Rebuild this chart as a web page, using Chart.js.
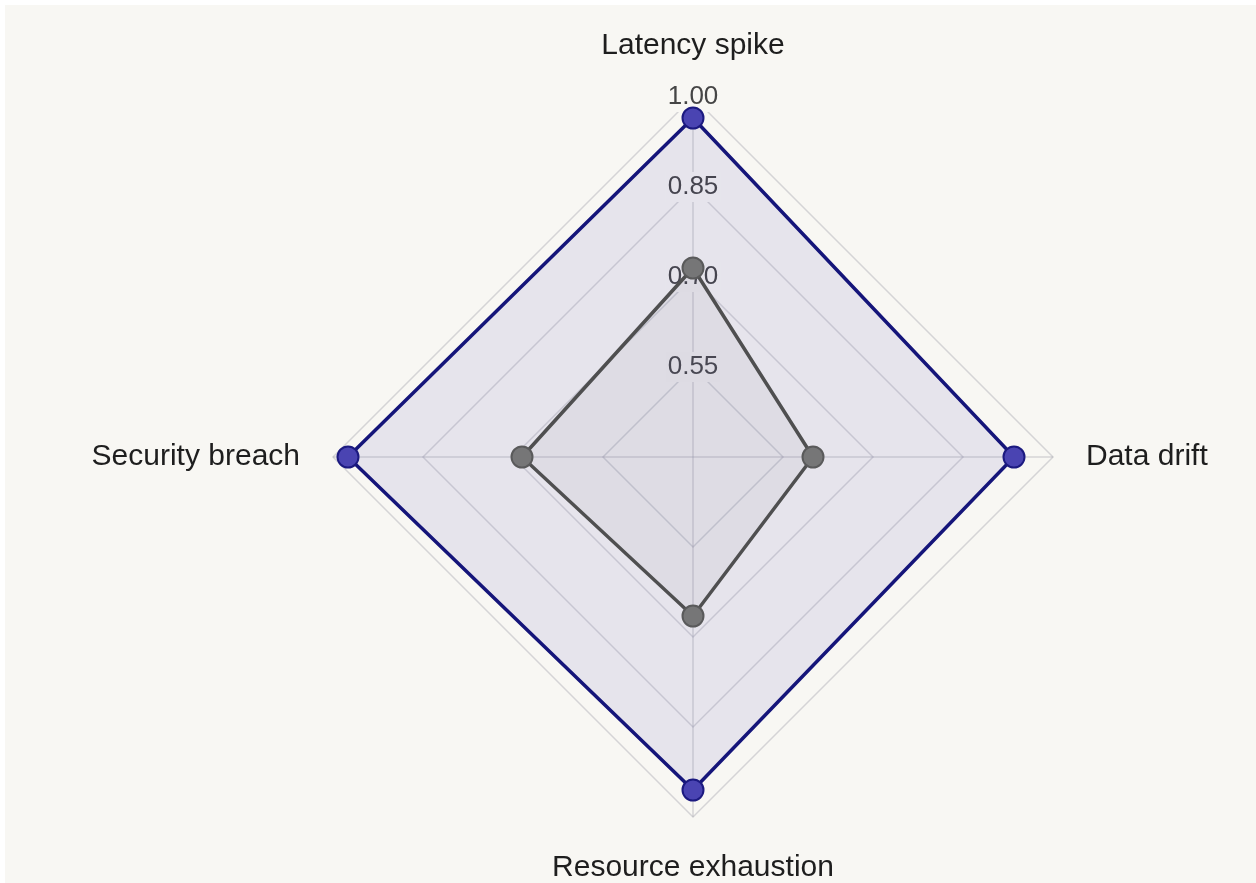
<!DOCTYPE html>
<html>
<head>
<meta charset="utf-8">
<script src="https://cdn.jsdelivr.net/npm/chart.js@4/dist/chart.umd.min.js"></script>
<style>
  html, body { margin: 0; padding: 0; background: #ffffff; overflow: hidden; }
  .frame {
    position: absolute; left: 5px; top: 5px; width: 1251px; height: 878px;
    background: #f8f7f3; overflow: hidden;
  }
  .chart-box { position: absolute; left: 0; top: 23px; width: 1376px; height: 859px; }
</style>
</head>
<body>
<div class="frame">
  <div class="chart-box"><canvas id="radar"></canvas></div>
</div>
<script>
const categories = ['Latency spike', 'Data drift', 'Resource exhaustion', 'Security breach'];
const upperValues = [0.965, 0.935, 0.955, 0.975];
const currentValues = [0.715, 0.60, 0.665, 0.685];
const tickValues = [0.40, 0.55, 0.70, 0.85, 1.00];

const ctx = document.getElementById('radar').getContext('2d');

new Chart(ctx, {
  type: 'radar',
  data: {
    labels: categories,
    datasets: [
      {
        label: 'Upper bound',
        data: upperValues,
        order: 1,
        borderColor: '#15157a',
        backgroundColor: 'rgba(80, 70, 180, 0.10)',
        borderWidth: 3.5,
        pointBackgroundColor: '#4a44b2',
        pointBorderColor: '#1c1a80',
        pointBorderWidth: 2,
        pointRadius: 10.5,
        fill: true,
      },
      {
        label: 'Current',
        data: currentValues,
        order: 0,
        borderColor: '#4f4f50',
        backgroundColor: 'rgba(120, 120, 125, 0.08)',
        borderWidth: 3.5,
        pointBackgroundColor: '#767677',
        pointBorderColor: '#5a5a5b',
        pointBorderWidth: 2,
        pointRadius: 10.5,
        fill: true,
      },
    ],
  },
  options: {
    responsive: true,
    maintainAspectRatio: false,
    animation: false,
    layout: { padding: 0 },
    plugins: {
      legend: { display: false },
      tooltip: { enabled: false },
    },
    scales: {
      r: {
        min: tickValues[0],
        max: tickValues[tickValues.length - 1],
        afterBuildTicks: (scale) => {
          scale.ticks = tickValues.map((v) => ({ value: v }));
        },
        angleLines: { color: 'rgba(160, 160, 170, 0.4)', lineWidth: 1.5 },
        grid: { color: 'rgba(160, 160, 170, 0.4)', lineWidth: 1.5 },
        ticks: {
          color: '#454545',
          font: { family: 'Liberation Sans, Arial, sans-serif', size: 26 },
          backdropColor: '#f8f7f3',
          backdropPadding: 2,
          callback: (v) => Number(v).toFixed(2),
        },
        pointLabels: {
          color: '#1e1e1e',
          padding: 18,
          font: { family: 'Liberation Sans, Arial, sans-serif', size: 30 },
        },
      },
    },
  },
});
</script>
</body>
</html>
